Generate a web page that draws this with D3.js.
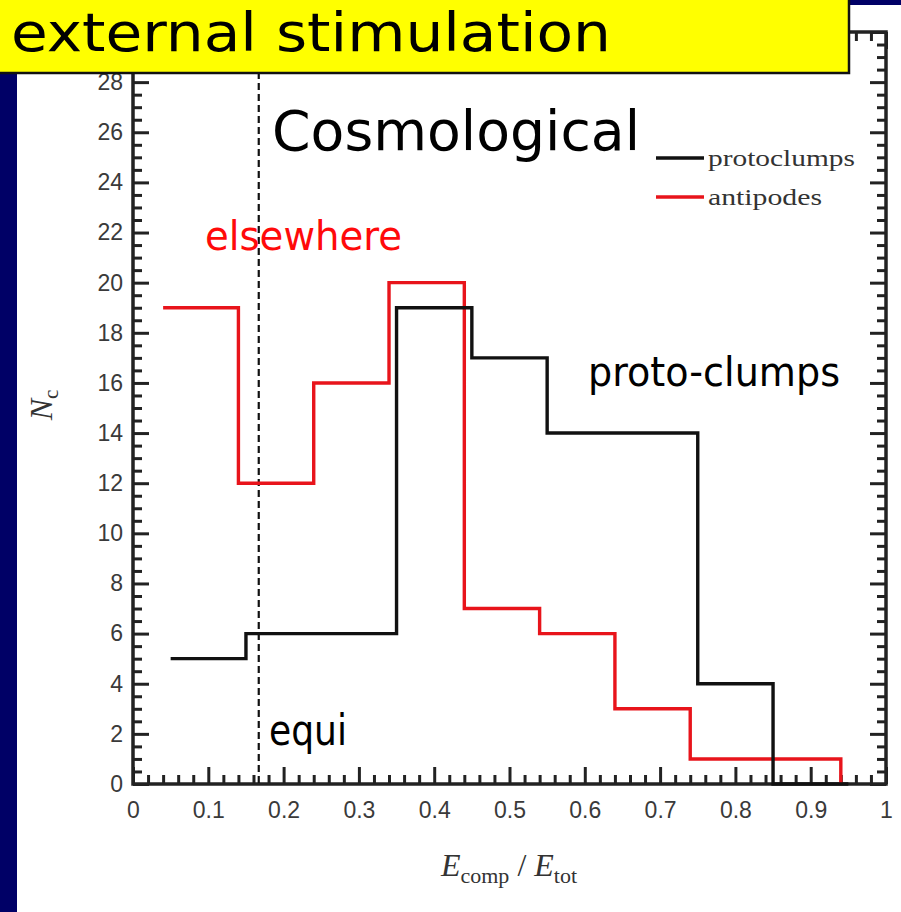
<!DOCTYPE html>
<html>
<head>
<meta charset="utf-8">
<script src="https://cdn.jsdelivr.net/npm/d3@7"></script>
<style>
  html, body { margin: 0; padding: 0; background: #000066; }
  svg { display: block; }
</style>
</head>
<body>
<svg id="chart" width="901" height="912"></svg>
<script>
// Histogram of compression-energy fraction, two populations drawn as stairs
const protoEdges  = [0.05, 0.15, 0.25, 0.35, 0.45, 0.55, 0.65, 0.75, 0.85, 0.95];
const protoCounts = [5, 6, 6, 19, 17, 14, 14, 4, 0];
const antiEdges   = [0.04, 0.14, 0.24, 0.34, 0.44, 0.54, 0.64, 0.74, 0.84, 0.94];
const antiCounts  = [19, 12, 16, 20, 7, 6, 3, 1, 1];

const xMajorTicks = [0, 0.1, 0.2, 0.3, 0.4, 0.5, 0.6, 0.7, 0.8, 0.9, 1];
const xTickLabels = ["0", "0.1", "0.2", "0.3", "0.4", "0.5", "0.6", "0.7", "0.8", "0.9", "1"];
const yMajorTicks = [0, 2, 4, 6, 8, 10, 12, 14, 16, 18, 20, 22, 24, 26, 28, 30];
// the 30 tick sits under the banner, so it carries no label
const yTickLabels = ["0", "2", "4", "6", "8", "10", "12", "14", "16", "18", "20", "22", "24", "26", "28", ""];
const equiLine = 0.167;

const legendNames = ["protoclumps", "antipodes"];
const seriesColors = ["#111111", "#e8141b"];

const svg = d3.select("#chart");
const W = 901, H = 912;

// slide background: navy frame with white panel
svg.append("rect").attr("x", 0).attr("y", 0).attr("width", W).attr("height", H).attr("fill", "#000066");
svg.append("rect").attr("x", 17).attr("y", 5).attr("width", W - 17).attr("height", H - 5).attr("fill", "#ffffff");

const plot = { left: 133, right: 886, top: 32, bottom: 784 };
const x = d3.scaleLinear().domain([0, 1]).range([plot.left, plot.right]);
const y = d3.scaleLinear().domain([0, 30]).range([plot.bottom, plot.top]);

const xMinor = d3.range(0, 51).map(i => i / 50).filter(v => Math.round(v * 50) % 5 !== 0);
const yMinor = d3.range(0, 61).map(i => i / 2).filter(v => v % 2 !== 0);

const axisColor = "#222222";
const labelFont = "'Liberation Sans', Arial, sans-serif";

function styleAxis(g) {
  g.select(".domain").remove();
  g.selectAll(".tick line").attr("stroke", axisColor).attr("stroke-width", 3);
  g.selectAll(".tick text").attr("fill", "#3a3a3a").style("font-family", labelFont).style("font-size", "23px");
}

const axes = svg.append("g");
// bottom axis with labels
axes.append("g").attr("transform", `translate(0,${plot.bottom})`)
  .call(d3.axisBottom(x).tickValues(xMajorTicks).tickSize(-17).tickPadding(18)
    .tickFormat((d, i) => xTickLabels[i]))
  .call(styleAxis);
axes.append("g").attr("transform", `translate(0,${plot.bottom})`)
  .call(d3.axisBottom(x).tickValues(xMinor).tickSize(-9).tickFormat(""))
  .call(styleAxis);
// top axis, mirrored ticks
axes.append("g").attr("transform", `translate(0,${plot.top})`)
  .call(d3.axisTop(x).tickValues(xMajorTicks).tickSize(-17).tickFormat(""))
  .call(styleAxis);
axes.append("g").attr("transform", `translate(0,${plot.top})`)
  .call(d3.axisTop(x).tickValues(xMinor).tickSize(-9).tickFormat(""))
  .call(styleAxis);
// left axis with labels
axes.append("g").attr("transform", `translate(${plot.left},0)`)
  .call(d3.axisLeft(y).tickValues(yMajorTicks).tickSize(-16).tickPadding(10)
    .tickFormat((d, i) => yTickLabels[i]))
  .call(styleAxis);
axes.append("g").attr("transform", `translate(${plot.left},0)`)
  .call(d3.axisLeft(y).tickValues(yMinor).tickSize(-9).tickFormat(""))
  .call(styleAxis);
// right axis, mirrored ticks
axes.append("g").attr("transform", `translate(${plot.right},0)`)
  .call(d3.axisRight(y).tickValues(yMajorTicks).tickSize(-16).tickFormat(""))
  .call(styleAxis);
axes.append("g").attr("transform", `translate(${plot.right},0)`)
  .call(d3.axisRight(y).tickValues(yMinor).tickSize(-9).tickFormat(""))
  .call(styleAxis);

// axis frame
svg.append("rect")
  .attr("x", plot.left).attr("y", plot.top)
  .attr("width", plot.right - plot.left).attr("height", plot.bottom - plot.top)
  .attr("fill", "none").attr("stroke", axisColor).attr("stroke-width", 3.5);

// equipartition marker
svg.append("line")
  .attr("x1", x(equiLine)).attr("x2", x(equiLine))
  .attr("y1", plot.top + 40).attr("y2", plot.bottom)
  .attr("stroke", "#111").attr("stroke-width", 2.2)
  .attr("stroke-dasharray", "7,4");

// stairs: each count held across its bin, closing down to zero at the last edge
function stairPoints(edges, counts) {
  const pts = counts.map((c, i) => [edges[i], c]);
  pts.push([edges[edges.length - 1], counts[counts.length - 1]]);
  pts.push([edges[edges.length - 1], 0]);
  return pts;
}
const stair = d3.line().x(d => x(d[0])).y(d => y(d[1])).curve(d3.curveStepAfter);

svg.append("path")
  .attr("d", stair(stairPoints(antiEdges, antiCounts)))
  .attr("fill", "none").attr("stroke", seriesColors[1]).attr("stroke-width", 3.4);
svg.append("path")
  .attr("d", stair(stairPoints(protoEdges, protoCounts)))
  .attr("fill", "none").attr("stroke", seriesColors[0]).attr("stroke-width", 3.4);

// legend
const legend = svg.append("g").attr("transform", "translate(656,158)");
legendNames.forEach((name, i) => {
  const row = legend.append("g").attr("transform", `translate(0,${i * 39})`);
  row.append("line").attr("x1", 0).attr("x2", 48).attr("y1", 0).attr("y2", 0)
    .attr("stroke", seriesColors[i]).attr("stroke-width", 3.5);
  row.append("text").attr("x", 52).attr("y", 8)
    .attr("fill", "#333").style("font-family", "'Liberation Serif', 'DejaVu Serif', serif")
    .style("font-size", "23px")
    .attr("textLength", i === 0 ? 147 : 114).attr("lengthAdjust", "spacingAndGlyphs")
    .text(name);
});

// axis titles
const serif = "'Liberation Serif', 'DejaVu Serif', serif";
const xt = svg.append("text").attr("x", 509).attr("y", 876).attr("text-anchor", "middle")
  .attr("fill", "#333").style("font-family", serif).style("font-size", "32px");
xt.append("tspan").style("font-style", "italic").text("E");
xt.append("tspan").attr("dy", 7).style("font-size", "22px").text("comp");
xt.append("tspan").attr("dy", -7).text(" / ");
xt.append("tspan").style("font-style", "italic").text("E");
xt.append("tspan").attr("dy", 7).style("font-size", "22px").text("tot");

const yt = svg.append("text").attr("transform", "translate(52,405) rotate(-90)")
  .attr("text-anchor", "middle").attr("fill", "#333")
  .style("font-family", serif).style("font-size", "32px");
yt.append("tspan").style("font-style", "italic").text("N");
yt.append("tspan").attr("dy", 6).style("font-size", "21px").text("c");

// annotations
const handFont = "'DejaVu Sans', 'Noto Sans', sans-serif";
function note(txt, px, py, size, len, color) {
  svg.append("text").attr("x", px).attr("y", py)
    .attr("fill", color).style("font-family", handFont).style("font-size", size + "px")
    .attr("textLength", len).attr("lengthAdjust", "spacingAndGlyphs")
    .text(txt);
}
note("Cosmological", 272, 150, 56, 368, "#000");
note("elsewhere", 205, 250, 41, 197, "#ff0a0a");
note("proto-clumps", 588, 386, 41, 252, "#000");
note("equi", 269, 745, 42, 78, "#000");

// title banner
svg.append("rect").attr("x", -2).attr("y", -2).attr("width", 851).attr("height", 75)
  .attr("fill", "#ffff00").attr("stroke", "#111").attr("stroke-width", 2.5);
note("external stimulation", 11, 51, 54, 600, "#000");
</script>
</body>
</html>
